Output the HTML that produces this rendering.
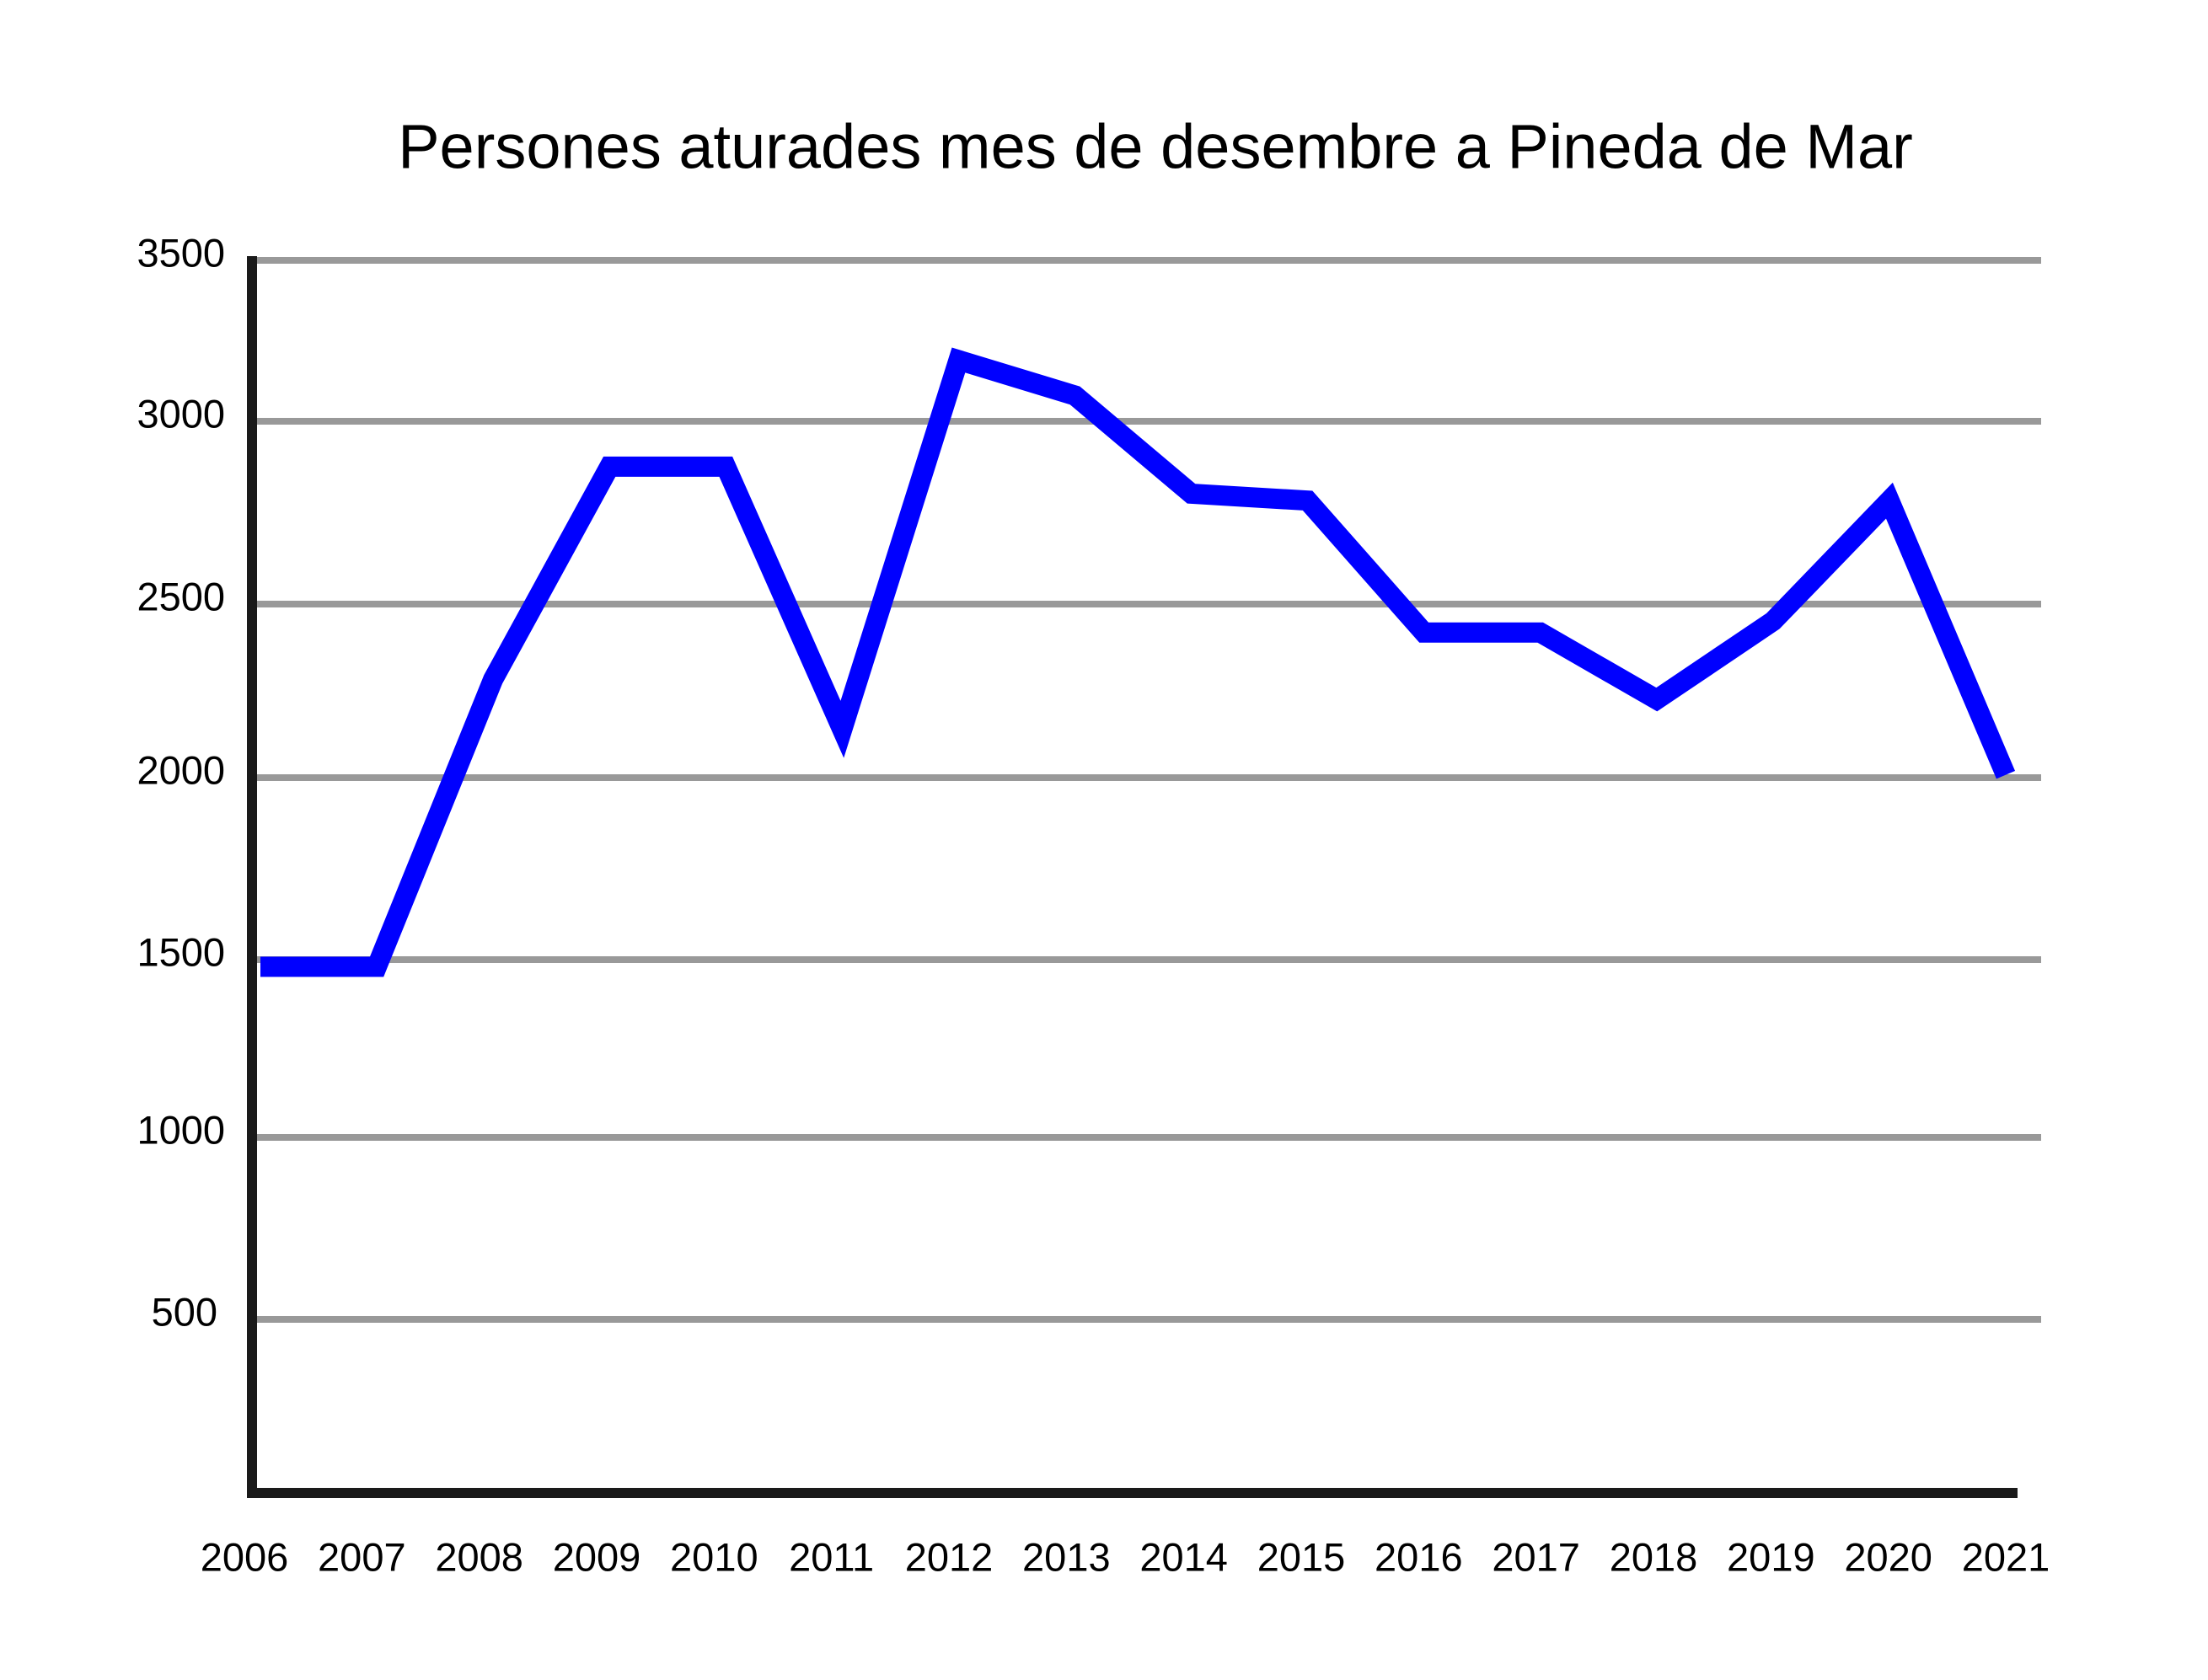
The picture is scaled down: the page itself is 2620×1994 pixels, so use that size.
<!DOCTYPE html>
<html><head><meta charset="utf-8"><style>
html,body{margin:0;padding:0;background:#fff}
svg{display:block}
text{font-family:"Liberation Sans",sans-serif;fill:#000}
</style></head><body>
<svg id="chart" width="2620" height="1994" viewBox="0 0 2620 1994" xmlns="http://www.w3.org/2000/svg">
<text x="1371" y="174" font-size="74" text-anchor="middle" dominant-baseline="central">Persones aturades mes de desembre a Pineda de Mar</text>
<g id="grid"></g>
<g id="ylabels"></g>
<g id="xlabels"></g>
<path id="series" fill="none" stroke="#0000ff" stroke-width="24" stroke-linejoin="miter" stroke-miterlimit="3"></path>
<line x1="299" y1="304" x2="299" y2="1778" stroke="#1a1a1a" stroke-width="12"/>
<line x1="293" y1="1772" x2="2394" y2="1772" stroke="#1a1a1a" stroke-width="12"/>
</svg>
<script>
const years = ["2006","2007","2008","2009","2010","2011","2012","2013","2014","2015","2016","2017","2018","2019","2020","2021"];
const values = [1480,1480,2283,2876,2876,2139,3190,3080,2802,2783,2418,2418,2225,2451,2783,2008];
const yTicks = [500,1000,1500,2000,2500,3000,3500];
const yTickLabels = ["500","1000","1500","2000","2500","3000","3500"];
// axis geometry (pixel positions of the tick values on the original chart's y-axis)
const tickVals = [0,500,1000,1500,2000,2500,3000,3500];
const tickPix = [1772,1566,1350,1139,923,717,500,309];
function yScale(v){
  for(let i=0;i<tickVals.length-1;i++){
    if(v<=tickVals[i+1]||i===tickVals.length-2){
      const t=(v-tickVals[i])/(tickVals[i+1]-tickVals[i]);
      return tickPix[i]+t*(tickPix[i+1]-tickPix[i]);
    }
  }
}
function xScale(i){return 309+i*(2380-309)/(years.length-1);}
function xLabelPos(i){return 290+i*(2380-290)/(years.length-1);}
const NS="http://www.w3.org/2000/svg";
const grid=document.getElementById('grid'),yl=document.getElementById('ylabels'),xl=document.getElementById('xlabels');
yTicks.forEach((v,i)=>{
  const y=yScale(v);
  const l=document.createElementNS(NS,'line');
  
  
  l.setAttribute('x1',304);l.setAttribute('x2',2422);l.setAttribute('y1',y);l.setAttribute('y2',y);
  l.setAttribute('stroke','#999');l.setAttribute('stroke-width',8);
  grid.appendChild(l);
  const t=document.createElementNS(NS,'text');
  
  
  t.setAttribute('x',v===500?258:267);t.setAttribute('y',y-9);
  t.setAttribute('font-size',47);t.setAttribute('text-anchor','end');t.setAttribute('dominant-baseline','central');
  t.textContent=yTickLabels[i];
  yl.appendChild(t);
});
years.forEach((yr,i)=>{
  const t=document.createElementNS(NS,'text');
  
  
  t.setAttribute('x',xLabelPos(i));t.setAttribute('y',1848);
  t.setAttribute('font-size',47);t.setAttribute('text-anchor','middle');t.setAttribute('dominant-baseline','central');
  t.textContent=yr;
  xl.appendChild(t);
});
let d='';
values.forEach((v,i)=>{d+=(i?'L':'M')+xScale(i)+' '+yScale(v)+' ';});
document.getElementById('series').setAttribute('d',d);
</script>
</body></html>
